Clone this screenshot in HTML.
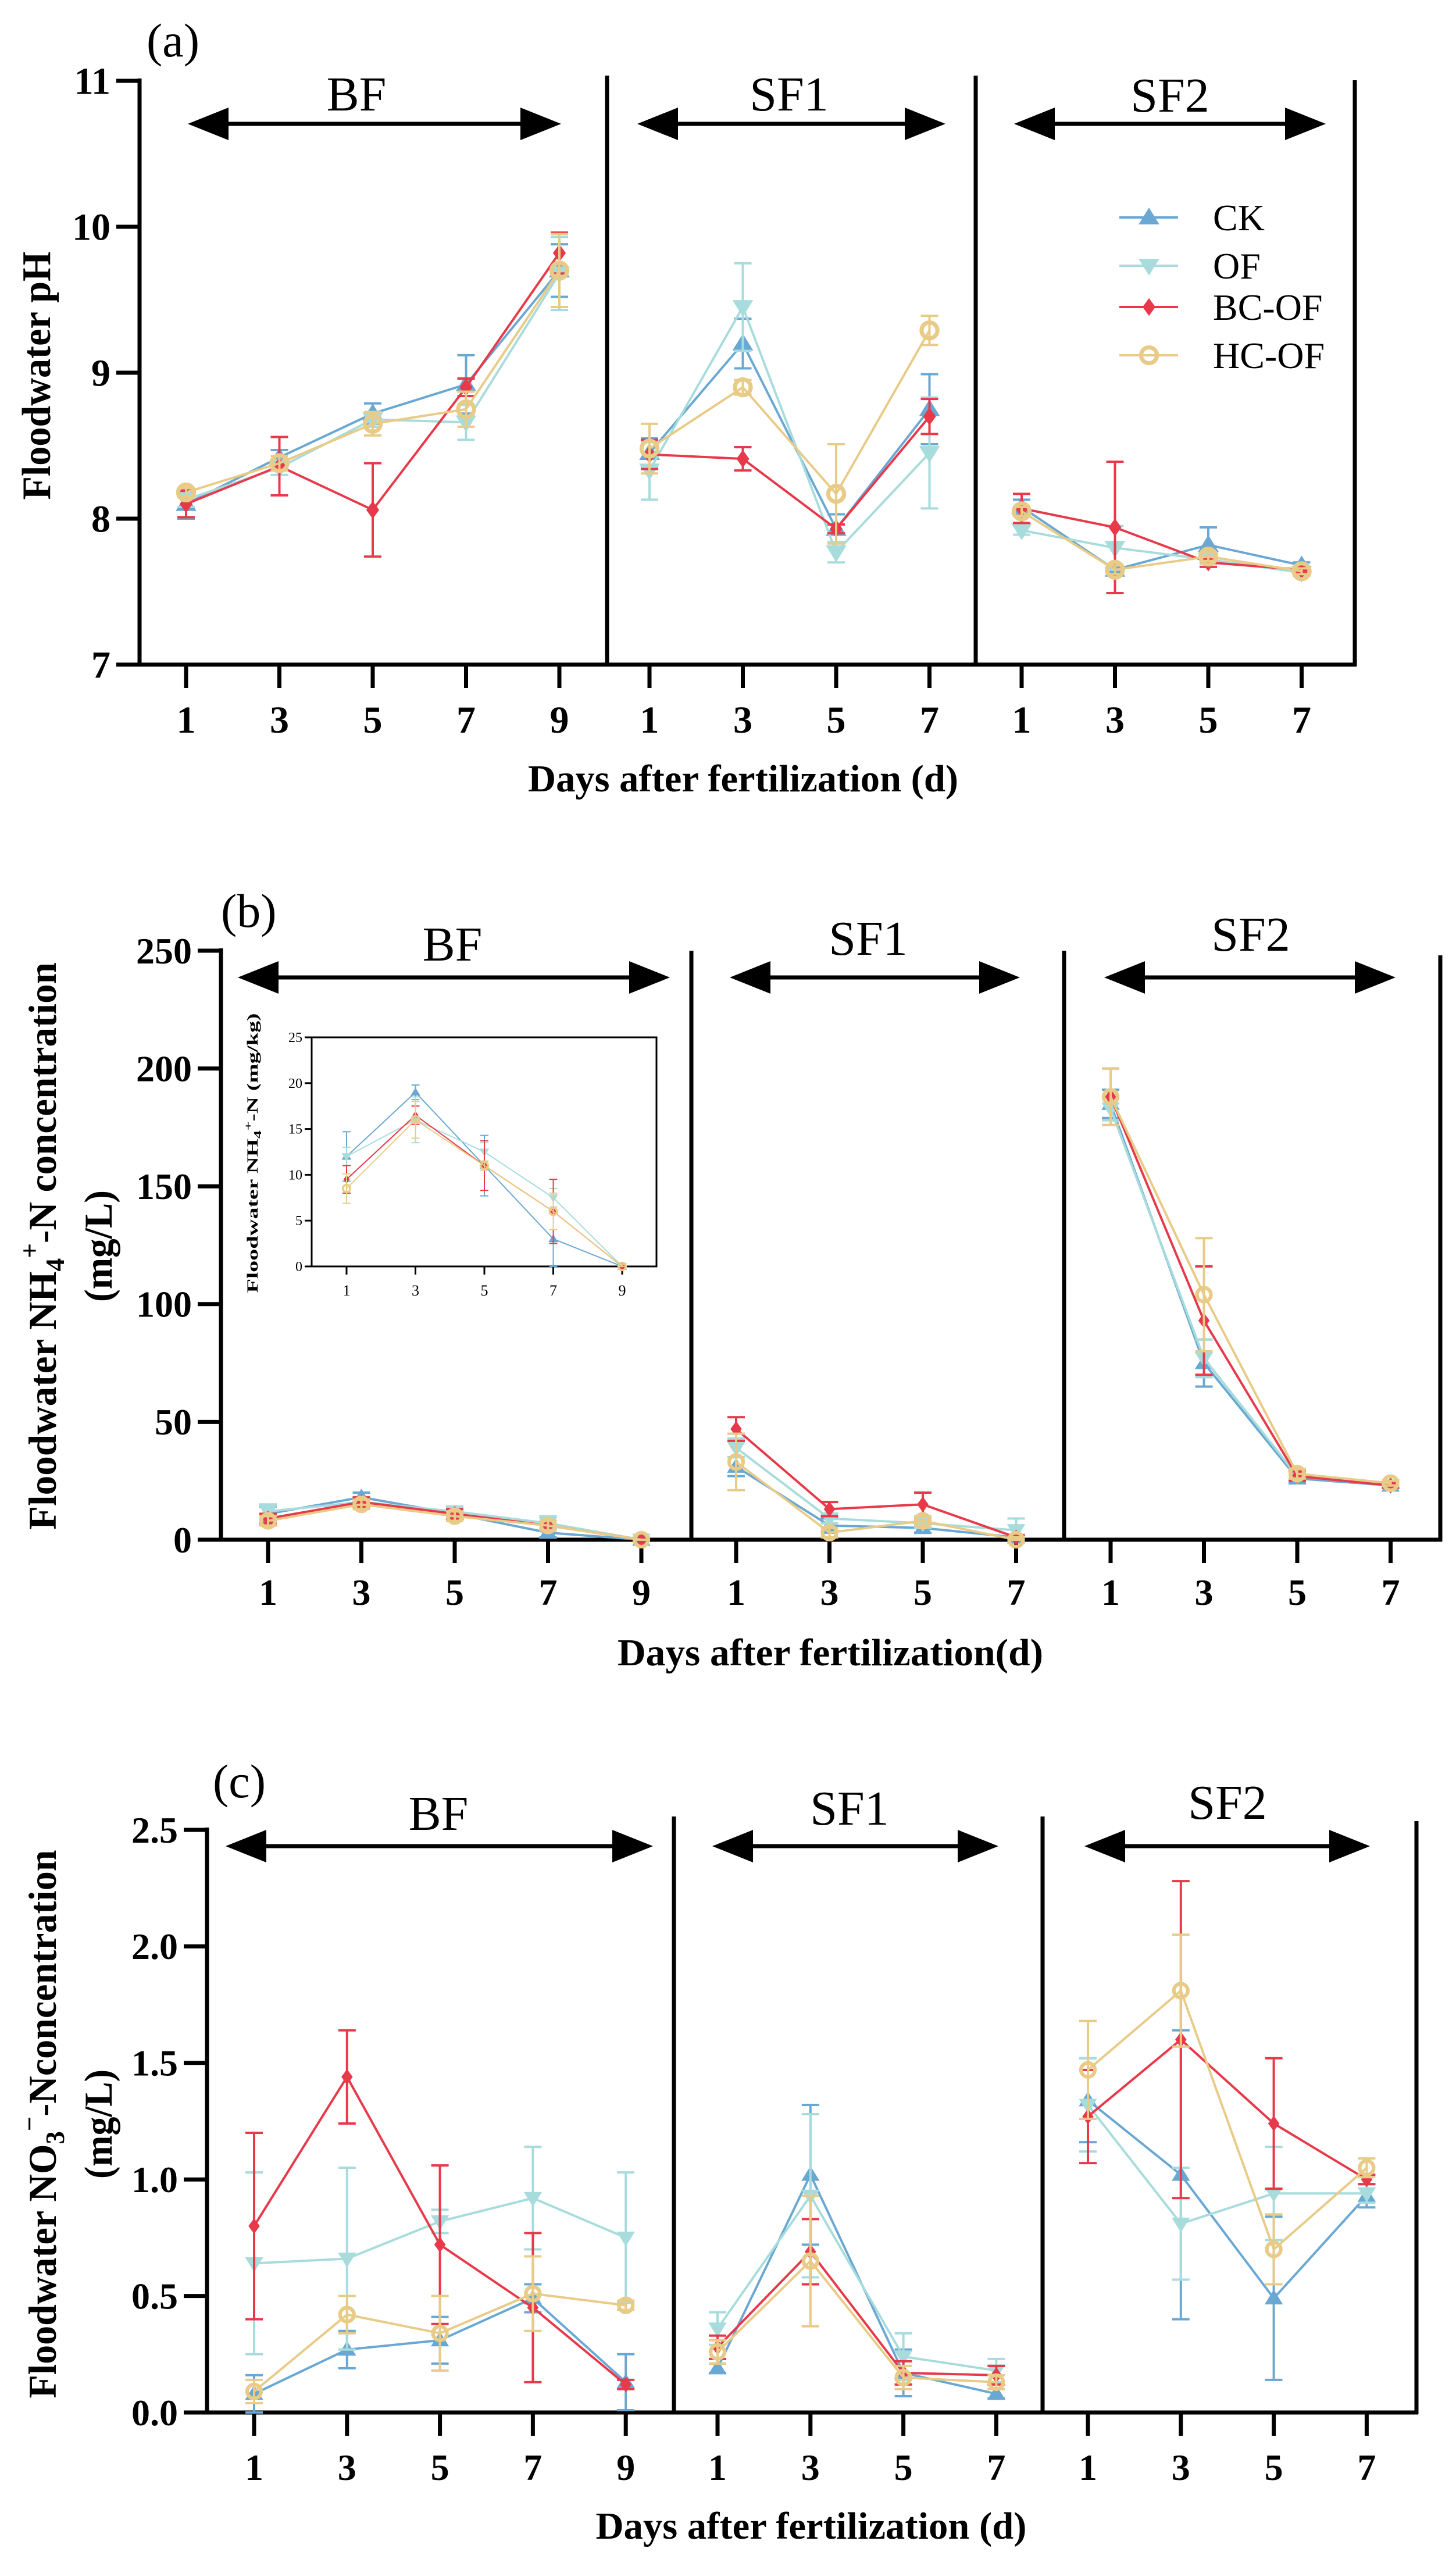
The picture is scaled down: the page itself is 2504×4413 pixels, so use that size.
<!DOCTYPE html>
<html><head><meta charset="utf-8"><title>Floodwater charts</title>
<style>
html,body{margin:0;padding:0;background:#fff;}
svg{display:block;font-family:"Liberation Serif","DejaVu Serif",serif;}
</style></head>
<body>
<svg id="chart" width="2504" height="4413" viewBox="0 0 2504 4413" xmlns="http://www.w3.org/2000/svg"></svg>
<script>
const seriesNames = ["CK","OF","BC-OF","HC-OF"];
const seriesColors = ["#6aa8d4","#a8dcdc","#e8394a","#e8cb86"];
const periodNames = ["BF","SF1","SF2"];
const periodDays = [[1,3,5,7,9],[1,3,5,7],[1,3,5,7]];

// Panel (a) pH
const phCK = [[8.10,8.42,8.72,8.92,9.70],[8.45,9.20,7.93,8.75],[8.08,7.65,7.82,7.68]];
const phOF = [[8.13,8.35,8.68,8.66,9.68],[8.33,9.45,7.77,8.45],[7.92,7.80,7.72,7.63]];
const phBC = [[8.10,8.36,8.06,8.90,9.82],[8.44,8.41,7.93,8.70],[8.07,7.94,7.70,7.65]];
const phHC = [[8.18,8.38,8.65,8.75,9.70],[8.48,8.90,8.17,9.29],[8.05,7.65,7.74,7.64]];
const phErrCK = [[0.10,0.05,0.07,0.20,0.18],[0.10,0.17,0.10,0.24],[0.05,0.02,0.12,0.02]];
const phErrOF = [[0.05,0.05,0.05,0.12,0.25],[0.20,0.30,0.07,0.38],[0.03,0.15,0.03,0.02]];
const phErrBC = [[0.09,0.20,0.32,0.06,0.14],[0.10,0.08,0.03,0.12],[0.10,0.45,0.03,0.02]];
const phErrHC = [[0.03,0.05,0.08,0.12,0.25],[0.17,0.05,0.34,0.10],[0.03,0.03,0.03,0.02]];
const phTicks = [7,8,9,10,11];

// Panel (b) NH4+-N
const nhCK = [[11,18,11,3,0],[31,6,5,1],[185,75,26,23]];
const nhOF = [[12,16,12,7,0],[39,9,7,4],[183,77,27,23]];
const nhBC = [[9,16,11,6,0],[47,13,15,1],[188,93,27,23]];
const nhHC = [[8,15,10,6,0],[33,3,8,0],[188,104,28,24]];
const nhErrCK = [[3,2,2,2,0.5],[4,3,2,1],[6,10,2,1]];
const nhErrOF = [[3,2,2,3,1],[4,2,2,5],[5,8,2,1]];
const nhErrBC = [[2,2,2,2,0],[5,3,5,1],[12,23,2,1]];
const nhErrHC = [[2,2,2,2,0],[12,2,2,1],[12,24,2,1]];
const nhTicks = [0,50,100,150,200,250];

// Inset (mg/kg)
const inCK = [12,19,11,3,0];
const inOF = [12,16,12.5,7.5,0];
const inBC = [9.5,16.5,11,6,0];
const inHC = [8.5,16,11,6,0];
const inErrCK = [2.7,0.8,3.3,3,0.2];
const inErrOF = [1,2.5,1,1,0.2];
const inErrBC = [1.5,1,2.7,3.5,0.2];
const inErrHC = [1.6,2,0.5,2,0.2];
const inTicks = [0,5,10,15,20,25];

// Panel (c) NO3--N
const noCK = [[0.08,0.27,0.31,0.49,0.13],[0.19,1.02,0.17,0.08],[1.34,1.02,0.49,0.93]];
const noOF = [[0.64,0.66,0.82,0.92,0.75],[0.36,0.93,0.24,0.18],[1.32,0.81,0.94,0.94]];
const noBC = [[0.80,1.44,0.72,0.45,0.12],[0.28,0.69,0.17,0.16],[1.27,1.60,1.24,1.00]];
const noHC = [[0.09,0.42,0.34,0.51,0.46],[0.26,0.65,0.15,0.13],[1.47,1.81,0.70,1.05]];
const noErrCK = [[0.08,0.08,0.10,0.06,0.12],[0.02,0.30,0.10,0.02],[0.18,0.62,0.35,0.05]];
const noErrOF = [[0.39,0.39,0.05,0.22,0.28],[0.07,0.35,0.10,0.05],[0.20,0.24,0.20,0.04]];
const noErrBC = [[0.40,0.20,0.34,0.32,0.02],[0.05,0.14,0.05,0.04],[0.20,0.68,0.28,0.02]];
const noErrHC = [[0.05,0.08,0.16,0.16,0.02],[0.05,0.28,0.05,0.03],[0.21,0.24,0.15,0.04]];
const noTicks = [0,0.5,1.0,1.5,2.0,2.5];

const NS = "http://www.w3.org/2000/svg";
const svg = document.getElementById("chart");
function mk(tag, attrs, parent){
  const e = document.createElementNS(NS, tag);
  for (const k in attrs) e.setAttribute(k, attrs[k]);
  (parent||svg).appendChild(e);
  return e;
}

function marker(g, type, x, y, color, s){
  let m;
  if (type === 0) m = mk("polygon",{points:`${x},${y-s} ${x-s*1.05},${y+s*0.7} ${x+s*1.05},${y+s*0.7}`,fill:color},g);
  else if (type === 1) m = mk("polygon",{points:`${x},${y+s} ${x-s*1.05},${y-s*0.7} ${x+s*1.05},${y-s*0.7}`,fill:color},g);
  else if (type === 2) m = mk("polygon",{points:`${x},${y-s*0.9} ${x-s*0.65},${y} ${x},${y+s*0.9} ${x+s*0.65},${y}`,fill:color},g);
  else m = mk("circle",{cx:x,cy:y,r:s*0.8,fill:"none",stroke:color,"stroke-width":s*0.42},g);
  return m;
}

function arrow(g, x1, x2, y, hl, hh, lw){
  mk("line",{x1:x1+hl*0.8,x2:x2-hl*0.8,y1:y,y2:y,stroke:"#000","stroke-width":lw},g);
  mk("polygon",{points:`${x1},${y} ${x1+hl},${y-hh} ${x1+hl},${y+hh}`,fill:"#000"},g);
  mk("polygon",{points:`${x2},${y} ${x2-hl},${y-hh} ${x2-hl},${y+hh}`,fill:"#000"},g);
}

function drawPanel(p){
  const g = mk("g",{});
  
  
  const yScale = v => p.y0 - (v - p.vmin) / (p.vmax - p.vmin) * (p.y0 - p.y1);
  const xScale = (k, d) => p.periodX[k] + (d - 1) / 2 * p.step;
  // panel label
  const lab = mk("text",{x:p.labX,y:p.labY,"font-size":p.labSize},g);
  lab.textContent = p.label;
  
  
  // axes
  const ax = mk("g",{},g);
  
  
  mk("line",{x1:p.axX,x2:p.axX,y1:p.y1-4,y2:p.y0+3,stroke:"#000","stroke-width":p.aw},ax);
  mk("line",{x1:p.axX-40,x2:p.rightX+3,y1:p.y0,y2:p.y0,stroke:"#000","stroke-width":p.aw},ax);
  p.dividers.forEach(dx=>{ mk("line",{x1:dx,x2:dx,y1:p.divTop,y2:p.y0,stroke:"#000","stroke-width":p.aw},ax); });
  mk("line",{x1:p.rightX,x2:p.rightX,y1:p.divTop+8,y2:p.y0+3,stroke:"#000","stroke-width":p.aw},ax);
  // y ticks
  p.ticks.forEach((t,i)=>{
    const y = yScale(t);
    mk("line",{x1:p.axX-40,x2:p.axX,y1:y,y2:y,stroke:"#000","stroke-width":p.aw},ax);
    const tx = mk("text",{x:p.axX-50,y:y+p.tickSize*0.34,"font-size":p.tickSize,"font-weight":"bold","text-anchor":"end"},ax);
    tx.textContent = p.tickLabels[i];
    
    
  });
  // x ticks
  periodDays.forEach((days,k)=>{
    days.forEach(d=>{
      const x = xScale(k,d);
      mk("line",{x1:x,x2:x,y1:p.y0,y2:p.y0+40,stroke:"#000","stroke-width":p.aw},ax);
      const tx = mk("text",{x:x,y:p.xLabY,"font-size":p.tickSize,"font-weight":"bold","text-anchor":"middle"},ax);
      tx.textContent = d;
      
      
    });
  });
  // period arrows
  p.arrows.forEach((a,k)=>{
    const ag = mk("g",{},g);
    
    
    arrow(ag, a[0], a[1], p.arrowY, 70, 28, 7);
    const t = mk("text",{x:a[2],y:a[3],"font-size":p.perSize,"text-anchor":"middle"},ag);
    t.textContent = periodNames[k];
  });
  // axis titles
  const xt = mk("text",{x:p.xTitle[0],y:p.xTitle[1],"font-size":p.xTitleSize,"font-weight":"bold","text-anchor":"middle",textLength:p.xTitle[2],lengthAdjust:"spacingAndGlyphs"},g);
  xt.textContent = p.xTitleText;
  
  
  p.yTitles.forEach((yt,i)=>{
    const t = mk("text",{x:0,y:0,transform:`translate(${yt.x},${yt.y}) rotate(-90)`,"font-size":p.yTitleSize,"font-weight":"bold","text-anchor":"middle",textLength:yt.len,lengthAdjust:"spacingAndGlyphs"},g);
    t.innerHTML = yt.html;
    
    
  });
  // series
  p.data.forEach((ser,si)=>{
    const sg = mk("g",{},g);
    
    
    ser.forEach((vals,k)=>{
      const pts = vals.map((v,j)=>[xScale(k,periodDays[k][j]), yScale(v)]);
      vals.forEach((v,j)=>{
        const e = p.err[si][k][j];
        const x = pts[j][0];
        const ya = yScale(v+e), yb = yScale(Math.max(p.vmin, v-e));
        mk("line",{x1:x,x2:x,y1:ya,y2:yb,stroke:seriesColors[si],"stroke-width":4},sg);
        mk("line",{x1:x-15,x2:x+15,y1:ya,y2:ya,stroke:seriesColors[si],"stroke-width":4},sg);
        mk("line",{x1:x-15,x2:x+15,y1:yb,y2:yb,stroke:seriesColors[si],"stroke-width":4},sg);
      });
      mk("polyline",{points:pts.map(q=>q.join(",")).join(" "),fill:"none",stroke:seriesColors[si],"stroke-width":p.lw},sg);
      pts.forEach(q=>{
        const m = marker(sg, si, q[0], q[1], seriesColors[si], p.ms);
        
        
      });
    });
  });
  return g;
}

drawPanel({
  name:"panel-a-ph", label:"(a)", labX:252, labY:97, labSize:82,
  vmin:7, vmax:11, y0:1143, y1:139, axX:240, rightX:2330, aw:7, divTop:130,
  dividers:[1044,1678], periodX:[320,1117,1757], step:160.5,
  ticks:phTicks, tickLabels:phTicks.map(String), tickSize:66, xLabY:1260,
  arrowY:213, perSize:84,
  arrows:[[323,965,613,190],[1096,1626,1357,190],[1744,2280,2012,192]],
  xTitle:[1278,1361,740], xTitleText:"Days after fertilization (d)", xTitleSize:66,
  yTitleSize:70, yTitles:[{x:86,y:646,len:427,html:"Floodwater pH"}],
  data:[phCK,phOF,phBC,phHC], err:[phErrCK,phErrOF,phErrBC,phErrHC], lw:4, ms:17
});

// legend
(function(){
  const lg = mk("g",{});
  
  
  const rows = [374,457,528,611];
  seriesNames.forEach((n,i)=>{
    const eg = mk("g",{},lg);
    
    
    mk("line",{x1:1925,x2:2026,y1:rows[i],y2:rows[i],stroke:seriesColors[i],"stroke-width":4},eg);
    marker(eg, i, 1976, rows[i], seriesColors[i], 17);
    const t = mk("text",{x:2086,y:rows[i]+22,"font-size":64},eg);
    t.textContent = n;
  });
})();

drawPanel({
  name:"panel-b-nh4", label:"(b)", labX:380, labY:1594, labSize:82,
  vmin:0, vmax:250, y0:2648, y1:1635, axX:380, rightX:2477, aw:7, divTop:1635,
  dividers:[1189,1830], periodX:[461,1266,1910], step:160.5,
  ticks:nhTicks, tickLabels:nhTicks.map(String), tickSize:64, xLabY:2760,
  arrowY:1681, perSize:84,
  arrows:[[409,1152,778,1652],[1255,1754,1493,1642],[1899,2400,2151,1635]],
  xTitle:[1428,2864,732], xTitleText:"Days after fertilization(d)", xTitleSize:66,
  yTitleSize:68, yTitles:[
    {x:96,y:2143,len:976,html:'Floodwater NH<tspan font-size="46" dy="14">4</tspan><tspan font-size="46" dy="-44">+</tspan><tspan dy="30">-N concentration</tspan>'},
    {x:192,y:2143,len:192,html:"(mg/L)"}],
  data:[nhCK,nhOF,nhBC,nhHC], err:[nhErrCK,nhErrOF,nhErrBC,nhErrHC], lw:4, ms:15
});

// inset
(function(){
  const g = mk("g",{});
  
  
  const x0 = 536, x1 = 1129, yb = 2178, yt = 1784;
  const ys = v => yb - v/25*(yb-yt);
  const xs = d => 596 + (d-1)/8*(1070-596);
  mk("rect",{x:x0,y:yt,width:x1-x0,height:yb-yt,fill:"#fff",stroke:"#000","stroke-width":3},g);
  inTicks.forEach(t=>{
    const y = ys(t);
    mk("line",{x1:x0-12,x2:x0,y1:y,y2:y,stroke:"#000","stroke-width":3},g);
    const tx = mk("text",{x:x0-16,y:y+8,"font-size":24,"text-anchor":"end"},g);
    tx.textContent = t;
    
    
  });
  periodDays[0].forEach(d=>{
    const x = xs(d);
    mk("line",{x1:x,x2:x,y1:yb,y2:yb+14,stroke:"#000","stroke-width":3},g);
    const tx = mk("text",{x:x,y:yb+50,"font-size":26,"text-anchor":"middle"},g);
    tx.textContent = d;
    
    
  });
  const t = mk("text",{x:0,y:0,transform:"translate(443,1983) rotate(-90)","font-size":26,"font-weight":"bold","text-anchor":"middle",textLength:481,lengthAdjust:"spacingAndGlyphs"},g);
  t.innerHTML = 'Floodwater NH<tspan font-size="18" dy="6">4</tspan><tspan font-size="18" dy="-16">+</tspan><tspan dy="10">-N (mg/kg)</tspan>';
  
  
  const sets = [inCK,inOF,inBC,inHC], errs = [inErrCK,inErrOF,inErrBC,inErrHC];
  sets.forEach((vals,si)=>{
    const sg = mk("g",{},g);
    
    
    const pts = vals.map((v,j)=>[xs(periodDays[0][j]), ys(v)]);
    vals.forEach((v,j)=>{
      const e = errs[si][j], x = pts[j][0];
      const ya = ys(v+e), yb2 = ys(Math.max(0,v-e));
      mk("line",{x1:x,x2:x,y1:ya,y2:yb2,stroke:seriesColors[si],"stroke-width":2},sg);
      mk("line",{x1:x-7,x2:x+7,y1:ya,y2:ya,stroke:seriesColors[si],"stroke-width":2},sg);
      mk("line",{x1:x-7,x2:x+7,y1:yb2,y2:yb2,stroke:seriesColors[si],"stroke-width":2},sg);
    });
    mk("polyline",{points:pts.map(q=>q.join(",")).join(" "),fill:"none",stroke:seriesColors[si],"stroke-width":2},sg);
    pts.forEach(q=>{
      const m = marker(sg, si, q[0], q[1], seriesColors[si], 8);
      
      
    });
  });
})();

drawPanel({
  name:"panel-c-no3", label:"(c)", labX:366, labY:3091, labSize:82,
  vmin:0, vmax:2.5, y0:4149, y1:3147, axX:356, rightX:2436, aw:7, divTop:3124,
  dividers:[1159,1793], periodX:[437,1234,1871], step:159.8,
  ticks:noTicks, tickLabels:noTicks.map(v=>v.toFixed(1)), tickSize:64, xLabY:4265,
  arrowY:3175, perSize:84,
  arrows:[[388,1123,754,3147],[1225,1717,1461,3138],[1865,2356,2111,3128]],
  xTitle:[1395,4366,741], xTitleText:"Days after fertilization (d)", xTitleSize:66,
  yTitleSize:68, yTitles:[
    {x:96,y:3653,len:943,html:'Floodwater NO<tspan font-size="46" dy="14">3</tspan><tspan font-size="46" dy="-44">−</tspan><tspan dy="30">-Nconcentration</tspan>'},
    {x:192,y:3653,len:188,html:"(mg/L)"}],
  data:[noCK,noOF,noBC,noHC], err:[noErrCK,noErrOF,noErrBC,noErrHC], lw:4, ms:15
});
</script>
</body></html>
